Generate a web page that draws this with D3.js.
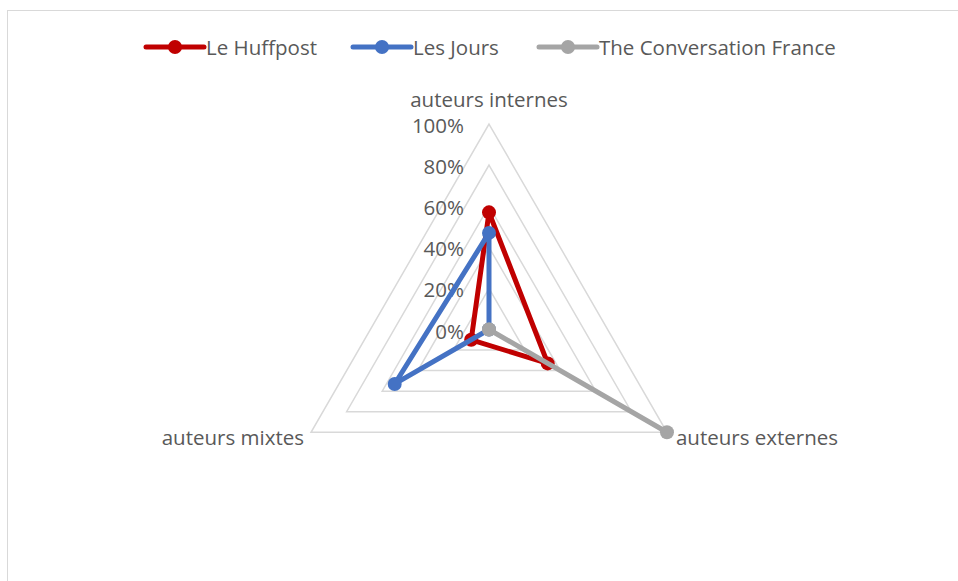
<!DOCTYPE html>
<html><head><meta charset="utf-8">
<script src="https://cdn.jsdelivr.net/npm/d3@7"></script>
<style>body{margin:0;background:#fff;} svg{display:block;} text{font-family:"Open Sans",sans-serif;fill:#595959;}</style>
</head><body>
<svg id="c" width="958" height="581"></svg>
<script>
const axes = ["auteurs internes", "auteurs externes", "auteurs mixtes"];
const seriesNames = ["Le Huffpost", "Les Jours", "The Conversation France"];
const huffpost = [0.57, 0.33, 0.10];
const lesJours = [0.47, 0.00, 0.53];
const conversation = [0.00, 1.00, 0.00];
const tickValues = [0, 0.2, 0.4, 0.6, 0.8, 1.0];
const colors = ["#C00000", "#4472C4", "#A5A5A5"];

const svg = d3.select("#c");
const cx = 489, cy = 329.5, R = 205.5;
const FS = 20.5;
const r = d3.scaleLinear().domain([0, 1]).range([0, R]);
const angle = d3.scaleLinear().domain([0, axes.length]).range([0, 2 * Math.PI]);
const pt = (i, v) => [cx + r(v) * Math.sin(angle(i)), cy - r(v) * Math.cos(angle(i))];

// frame
svg.append("rect").attr("x", 7.5).attr("y", 10.5).attr("width", 960).attr("height", 600)
  .attr("fill", "none").attr("stroke", "#d9d9d9").attr("stroke-width", 1);

// grid
tickValues.slice(1).forEach(t => {
  const pts = axes.map((a, i) => pt(i, t));
  svg.append("polygon").attr("points", pts.map(p => p.join(",")).join(" "))
    .attr("fill", "none").attr("stroke", "#d9d9d9").attr("stroke-width", 1.5);
});

// tick labels
const fmt = d3.format(".0%");
svg.selectAll("text.tick").data(tickValues).join("text")
  .attr("class", "tick").attr("x", cx - 25).attr("y", d => cy - r(d) + 1)
  .attr("text-anchor", "end").attr("dominant-baseline", "central")
  .attr("font-size", FS).text(d => fmt(d));

// axis labels
svg.append("text").attr("x", cx).attr("y", cy - R - 25).attr("text-anchor", "middle")
  .attr("dominant-baseline", "central").attr("font-size", FS).text(axes[0]);
svg.append("text").attr("x", pt(1, 1)[0] + 9).attr("y", pt(1, 1)[1] + 5).attr("text-anchor", "start")
  .attr("dominant-baseline", "central").attr("font-size", FS).text(axes[1]);
svg.append("text").attr("x", pt(2, 1)[0] - 7).attr("y", pt(2, 1)[1] + 5).attr("text-anchor", "end")
  .attr("dominant-baseline", "central").attr("font-size", FS).text(axes[2]);

// series
const data = [huffpost, lesJours, conversation];
const line = d3.line().curve(d3.curveLinearClosed);
data.forEach((vals, s) => {
  const pts = vals.map((v, i) => pt(i, v));
  svg.append("path").attr("d", line(pts)).attr("fill", "none")
    .attr("stroke", colors[s]).attr("stroke-width", 5).attr("stroke-linejoin", "round");
  svg.selectAll(null).data(pts).join("circle").attr("cx", d => d[0]).attr("cy", d => d[1])
    .attr("r", 7).attr("fill", colors[s]);
});

// legend
const legX = [146, 353, 539];
seriesNames.forEach((n, s) => {
  const g = svg.append("g").attr("transform", `translate(${legX[s]},47)`);
  g.append("line").attr("x1", 0).attr("x2", 58).attr("y1", 0).attr("y2", 0)
    .attr("stroke", colors[s]).attr("stroke-width", 5).attr("stroke-linecap", "round");
  g.append("circle").attr("cx", 29).attr("cy", 0).attr("r", 7).attr("fill", colors[s]);
  g.append("text").attr("x", 60).attr("y", 0).attr("dominant-baseline", "central")
    .attr("font-size", FS).text(n);
});
</script>
</body></html>
